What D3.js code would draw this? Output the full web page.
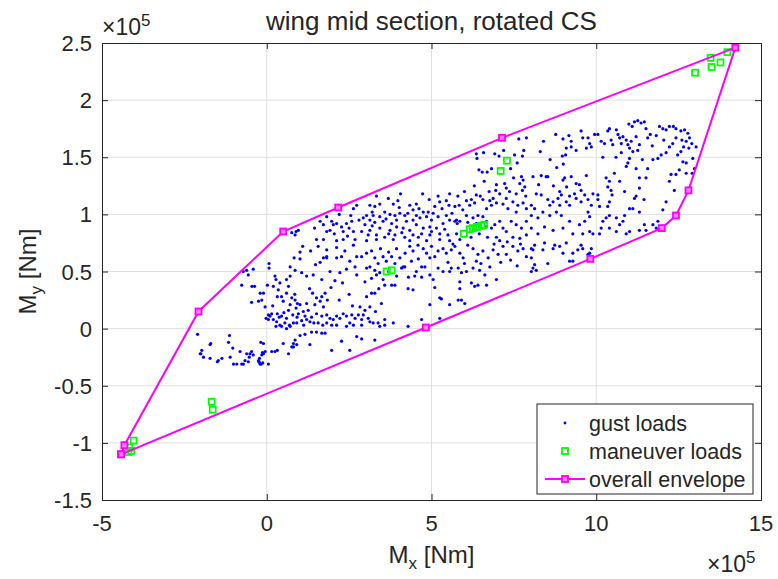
<!DOCTYPE html>
<html>
<head>
<meta charset="utf-8">
<script src="https://cdn.jsdelivr.net/npm/d3@7"></script>
<style>
  body { margin: 0; background: #fff; }
  text { font-family: "Liberation Sans", Arial, Helvetica, sans-serif; fill: #262626; }
</style>
</head>
<body>
<svg id="chart" width="778" height="579" font-family="Liberation Sans, Arial, sans-serif"></svg>
<script>
// all moments in units of 1e5 Nm (axes show the x10^5 factor)
const xTicks = [-5, 0, 5, 10, 15];
const yTicks = [-1.5, -1, -0.5, 0, 0.5, 1, 1.5, 2, 2.5];

const envelope = [
  [-4.42, -1.10], [-4.32, -1.02], [-2.07, 0.15], [0.50, 0.85], [2.17, 1.06], [7.14, 1.67],
  [14.22, 2.46], [12.80, 1.21], [12.42, 0.99], [11.99, 0.88], [9.82, 0.61], [4.83, 0.01],
  [-4.42, -1.10]
];

const maneuverLoads = [
  [-4.04, -0.98], [-4.11, -1.07], [-4.17, -1.04], [-4.20, -1.08],
  [-1.67, -0.64], [-1.64, -0.71],
  [3.64, 0.50], [3.79, 0.51],
  [5.98, 0.83], [6.16, 0.87], [6.26, 0.88], [6.38, 0.89], [6.52, 0.90], [6.60, 0.91],
  [7.10, 1.38], [7.29, 1.47],
  [13.00, 2.24], [13.47, 2.37], [13.50, 2.29], [13.77, 2.33], [13.98, 2.42]
];

const gustLoads = [
  // lower left lobe
  [1.09,0.72],[1.33,0.68],[1.56,0.72],[1.82,0.69],[2.12,0.71],[2.37,0.68],[2.63,0.73],[2.73,0.63],
  [2.52,0.59],[2.42,0.52],[2.73,0.47],[2.68,0.54],[1.01,0.61],[0.83,0.62],[0.71,0.54],[0.86,0.51],
  [1.06,0.49],[1.21,0.46],[1.41,0.47],[1.67,0.43],[1.92,0.50],[2.12,0.62],[2.27,0.63],[2.22,0.49],
  [2.07,0.42],[1.82,0.62],[1.72,0.62],[0.07,0.57],[0.07,0.53],[0.25,0.46],[0.28,0.43],[0.60,0.43],
  [0.66,0.37],[0.71,0.46],[0.02,0.38],[0.20,0.37],[0.35,0.34],[0.45,0.28],[0.32,0.28],[0.50,0.24],
  [0.60,0.31],[0.76,0.27],[0.86,0.25],[0.93,0.22],[1.01,0.21],[0.89,0.18],[0.71,0.21],[0.66,0.16],
  [0.79,0.12],[0.96,0.13],[1.11,0.15],[1.21,0.22],[1.26,0.16],[1.39,0.31],[1.51,0.27],[1.67,0.28],
  [1.77,0.31],[1.84,0.25],[1.62,0.24],[1.46,0.21],[1.72,0.19],[1.51,0.13],[1.67,0.11],[1.82,0.12],
  [1.92,0.09],[2.02,0.08],[2.12,0.11],[2.22,0.09],[2.32,0.13],[2.42,0.11],[2.58,0.12],[2.68,0.09],
  [2.78,0.12],[2.52,0.05],[2.63,0.03],[2.42,0.02],[2.12,0.03],[1.97,0.03],[1.82,0.05],[1.70,0.03],
  [1.56,0.05],[1.43,0.05],[1.31,0.06],[1.21,0.08],[1.16,0.11],[1.06,0.07],[0.91,0.05],[0.81,0.05],
  [0.69,0.03],[0.55,0.05],[0.40,0.03],[0.30,0.06],[0.20,0.08],[0.10,0.11],[0.05,0.12],[0.15,0.13],
  [0.32,0.13],[0.45,0.11],[0.60,0.09],[0.71,0.02],[0.60,0.00],[0.45,0.02],[-0.71,0.50],[-0.61,0.51],
  [-0.41,0.52],[-0.56,0.47],[-0.76,0.38],[-0.45,0.37],[-0.37,0.37],[-0.20,0.31],[-0.10,0.31],[-0.15,0.25],
  [-0.05,0.19],[-0.46,0.23],[-0.25,0.24],[-0.02,0.09],[0.05,0.08],[1.01,0.67],[1.82,0.63],[1.62,0.58],
  [0.38,0.10],[0.52,0.14],[0.28,0.02],[0.92,0.10],[1.36,0.10],[1.12,0.03],[0.85,0.30],[1.30,0.35],
  [0.18,0.20],[0.40,0.40],[1.48,0.56],[2.30,0.40],[2.50,0.30],[2.60,0.20],[2.20,0.25],[1.95,0.36],
  // tail below zero
  [-2.10,-0.05],[-1.70,-0.13],[-1.97,-0.19],[-2.00,-0.22],[-1.92,-0.25],[-1.72,-0.26],[-1.47,-0.28],[-1.50,-0.29],
  [-1.36,-0.26],[-1.13,-0.06],[-1.16,-0.12],[-1.03,-0.17],[-0.81,-0.20],[-0.71,-0.31],[-1.01,-0.31],[-0.91,-0.31],
  [-0.56,-0.29],[-0.51,-0.22],[-0.46,-0.20],[-0.41,-0.23],[-0.18,-0.12],[-0.15,-0.23],[-0.25,-0.28],[-0.20,-0.31],
  [-0.10,-0.22],[-0.05,-0.20],[0.15,-0.20],[0.25,-0.20],[0.32,-0.19],[0.50,-0.13],[0.66,-0.22],[0.76,-0.16],
  [0.81,-0.13],[0.91,-0.14],[0.86,-0.10],[1.01,-0.06],[1.16,-0.05],[1.31,-0.14],[1.36,-0.03],[1.51,-0.03],
  [1.67,-0.04],[1.77,-0.04],[1.97,-0.19],[2.27,-0.11],[2.52,-0.19],[2.73,-0.07],[-0.61,-0.22],[-0.53,-0.25],
  [-0.66,-0.28],[-0.22,-0.26],[-0.24,-0.29],[-0.21,-0.30],[-0.17,-0.31],[-0.12,-0.30],[-0.13,-0.21],
  [-1.72,-0.14],[-2.02,-0.22],[-1.11,-0.25],[-0.76,-0.31],[0.05,-0.31],[-0.10,-0.13],[0.81,-0.16],
  // upper left edge
  [0.76,0.84],[0.89,0.85],[0.96,0.86],[0.86,0.82],[1.62,0.94],[1.72,0.91],[1.82,0.98],[1.97,0.94],
  [2.02,0.91],[2.12,0.92],[2.27,0.89],[2.42,0.92],[2.50,0.88],[2.58,0.94],[2.63,1.05],[2.73,1.08],
  [1.82,0.85],[1.92,0.86],[2.32,0.85],[2.63,0.85],[1.51,0.78],[1.72,0.78],[2.12,0.77],[2.32,0.78],[2.68,0.78],
  [1.45,0.88],[2.05,0.83],[2.45,0.81],[2.80,0.95],[2.55,0.99],[2.20,1.00],
  // central band
  [7.65,1.66],[7.88,1.67],[7.19,1.56],[7.80,1.56],[6.36,1.53],[6.38,1.49],[6.58,1.54],[6.92,1.53],
  [7.05,1.51],[7.52,1.52],[7.76,1.51],[6.44,1.39],[6.54,1.37],[6.69,1.37],[6.82,1.40],[7.49,1.32],
  [7.73,1.33],[7.78,1.30],[7.68,1.27],[7.83,1.24],[6.97,1.26],[6.95,1.21],[7.07,1.18],[7.22,1.27],
  [7.27,1.23],[7.37,1.20],[7.57,1.18],[7.76,1.21],[7.86,1.16],[7.27,1.14],[7.47,1.11],[7.62,1.08],
  [7.78,1.10],[7.17,1.09],[7.32,1.05],[7.57,1.02],[7.88,1.05],[6.97,1.10],[6.87,1.14],[6.77,1.12],
  [6.82,1.08],[6.67,1.05],[6.36,1.17],[6.48,1.16],[6.56,1.13],[6.31,1.10],[6.41,0.99],[6.56,0.98],
  [6.67,0.94],[6.65,0.89],[6.82,0.88],[6.92,0.91],[7.07,0.94],[7.17,0.88],[7.27,0.85],[7.42,0.94],
  [7.57,0.91],[7.73,0.88],[7.88,0.94],[7.47,0.80],[7.68,0.79],[7.88,0.82],[6.97,0.80],[7.07,0.77],
  [3.33,1.16],[3.69,1.14],[4.06,1.18],[4.73,1.18],[3.13,1.08],[3.28,1.07],[3.43,1.09],[3.84,1.09],
  [4.02,1.06],[4.34,1.08],[4.54,1.09],[4.93,1.13],[5.20,1.16],[5.25,1.11],[5.45,1.12],[5.53,1.08],
  [5.71,1.07],[5.84,1.08],[6.06,1.12],[6.16,1.08],[6.21,1.13],[5.10,1.07],[4.90,1.02],[4.75,1.02],
  [4.54,0.99],[4.44,1.04],[4.19,0.99],[4.04,1.01],[3.89,0.99],[3.74,1.00],[3.58,1.02],[3.43,0.98],
  [3.23,0.99],[3.03,0.99],[2.93,0.97],[3.13,0.95],[3.28,0.93],[3.53,0.94],[3.79,0.92],[3.94,0.95],
  [4.24,0.94],[4.44,0.95],[4.65,0.97],[4.85,0.98],[5.00,0.95],[5.20,0.98],[5.45,0.99],[5.55,0.95],
  [5.76,0.95],[5.86,0.94],[6.06,0.99],[6.26,0.97],[6.36,0.92],[5.35,0.92],[5.15,0.88],[4.95,0.89],
  [4.75,0.88],[4.54,0.91],[4.34,0.86],[4.14,0.88],[3.94,0.89],[3.74,0.86],[3.43,0.88],[3.13,0.86],
  [2.98,0.91],[2.88,0.85],[3.08,0.82],[3.33,0.82],[3.58,0.80],[3.89,0.82],[4.19,0.80],[4.44,0.82],
  [4.70,0.83],[4.95,0.82],[5.25,0.83],[5.50,0.82],[5.76,0.83],[5.86,0.78],[5.55,0.77],[5.25,0.78],
  [4.85,0.77],[4.34,0.77],[3.84,0.78],[3.33,0.78],[3.03,0.77],[5.71,0.94],[5.78,0.92],
  [3.20,1.02],[3.62,0.96],[3.98,1.12],[4.28,1.01],[4.62,1.05],[5.05,1.01],[5.32,1.05],[5.62,1.01],
  [5.95,1.04],[6.10,0.93],[5.40,0.87],[5.00,0.85],[4.60,0.80],[4.10,0.84],[3.70,0.83],[3.20,0.90],
  [6.00,1.20],[5.80,1.16],[5.55,1.18],[6.30,1.25],[6.60,1.29],[6.75,1.20],[7.40,1.40],[7.60,1.45],
  [6.20,0.80],[6.45,0.83],[6.70,0.80],[6.90,0.74],[7.30,0.76],[7.70,0.74],[6.10,0.73],[5.65,0.74],
  [2.88,0.63],[3.03,0.66],[3.18,0.68],[3.28,0.62],[3.38,0.57],[3.53,0.63],[3.63,0.59],[3.79,0.63],
  [3.89,0.57],[4.04,0.62],[4.14,0.54],[3.94,0.70],[4.34,0.72],[4.44,0.68],[4.59,0.73],[4.75,0.70],
  [4.85,0.66],[4.95,0.62],[5.10,0.63],[5.20,0.68],[5.35,0.70],[5.45,0.66],[5.60,0.69],[5.71,0.72],
  [5.86,0.66],[5.96,0.62],[6.26,0.70],[6.41,0.65],[6.56,0.68],[6.72,0.62],[6.87,0.69],[7.02,0.65],
  [7.17,0.72],[7.27,0.65],[7.47,0.72],[7.62,0.68],[7.78,0.70],[7.88,0.63],[3.03,0.53],[3.13,0.54],
  [3.28,0.51],[3.43,0.49],[2.98,0.41],[3.18,0.44],[3.33,0.47],[3.53,0.43],[3.58,0.38],[3.79,0.38],
  [3.89,0.38],[3.94,0.46],[4.09,0.53],[4.19,0.54],[4.39,0.59],[4.54,0.50],[4.70,0.54],[4.80,0.54],
  [4.95,0.47],[5.05,0.43],[5.20,0.53],[5.35,0.50],[5.55,0.50],[5.60,0.53],[5.81,0.53],[5.86,0.41],
  [5.91,0.49],[6.06,0.50],[6.26,0.53],[6.36,0.59],[6.46,0.51],[6.62,0.47],[6.67,0.38],[6.77,0.54],
  [6.97,0.43],[6.21,0.40],[6.31,0.37],[6.41,0.38],[5.86,0.35],[4.49,0.46],[4.70,0.45],[4.29,0.35],
  [4.44,0.34],[3.03,0.28],[3.18,0.31],[3.28,0.31],[3.48,0.22],[3.13,0.19],[2.98,0.16],[2.93,0.12],
  [3.08,0.09],[3.23,0.05],[3.38,0.05],[3.58,0.08],[3.58,0.03],[3.84,0.05],[2.83,0.19],[2.88,0.08],
  [2.88,0.03],[3.13,0.06],[3.43,0.02],[3.28,-0.10],[2.88,-0.09],[4.95,0.21],[5.25,0.27],[5.30,0.26],
  [5.55,0.21],[5.81,0.25],[5.91,0.25],[6.01,0.22],[4.70,0.08],[5.25,0.09],[4.29,0.02],
  [3.45,0.70],[3.70,0.67],[4.20,0.66],[4.60,0.61],[5.00,0.72],[5.50,0.58],[6.00,0.57],[6.50,0.57],
  [7.10,0.58],[7.40,0.60],[7.60,0.55],[3.70,0.50],[4.30,0.45],[5.10,0.36],[3.40,0.35],[3.30,0.15],
  // right loop
  [8.40,1.64],[8.77,1.70],[8.99,1.66],[9.17,1.69],[9.24,1.64],[9.09,1.58],[8.97,1.51],[9.07,1.52],
  [9.24,1.59],[9.39,1.56],[9.54,1.73],[9.59,1.67],[9.75,1.67],[9.80,1.62],[9.70,1.58],[9.85,1.59],
  [9.95,1.70],[10.05,1.70],[10.15,1.64],[10.25,1.62],[10.35,1.73],[10.40,1.75],[10.45,1.65],[10.50,1.61],
  [10.61,1.74],[10.66,1.70],[10.71,1.67],[10.76,1.62],[10.81,1.68],[10.91,1.65],[10.96,1.61],[11.01,1.58],
  [11.06,1.64],[11.11,1.55],[11.21,1.68],[11.31,1.61],[11.26,1.56],[11.01,1.49],[10.96,1.45],[10.91,1.42],
  [10.76,1.54],[10.99,1.79],[11.09,1.77],[11.16,1.81],[11.26,1.82],[11.36,1.80],[11.46,1.81],[11.51,1.75],
  [11.56,1.67],[11.64,1.70],[11.82,1.69],[11.92,1.77],[12.02,1.75],[12.12,1.74],[12.22,1.77],[12.34,1.77],
  [12.42,1.75],[12.57,1.73],[12.68,1.74],[12.78,1.71],[12.83,1.67],[12.73,1.64],[12.65,1.59],[12.57,1.55],
  [12.42,1.67],[12.32,1.62],[12.22,1.59],[12.12,1.54],[11.97,1.52],[11.87,1.49],[11.72,1.48],[11.56,1.40],
  [11.51,1.32],[11.31,1.32],[11.21,1.40],[11.31,1.23],[11.21,1.16],[11.11,1.05],[11.31,1.02],[11.16,1.14],
  [12.47,1.52],[12.63,1.46],[12.73,1.45],[12.81,1.58],[13.03,1.59],[12.93,1.49],[12.98,1.40],[12.91,1.36],
  [12.73,1.36],[12.52,1.39],[12.42,1.35],[12.27,1.35],[12.37,1.21],[12.22,1.29],[12.12,1.11],[12.02,1.04],
  [8.08,1.33],[8.33,1.34],[8.48,1.33],[8.53,1.33],[8.18,1.18],[8.33,1.17],[8.53,1.13],[8.69,1.11],
  [8.84,1.14],[8.94,1.17],[8.89,1.20],[8.99,1.30],[9.04,1.32],[9.24,1.33],[9.39,1.27],[9.49,1.26],
  [9.54,1.21],[9.34,1.18],[9.19,1.16],[9.39,1.14],[9.54,1.11],[9.65,1.17],[9.75,1.13],[9.90,1.18],
  [10.05,1.17],[9.85,1.08],[9.75,1.02],[9.80,0.98],[9.65,0.94],[9.49,0.91],[9.19,0.94],[8.94,0.99],
  [8.79,1.02],[8.59,0.99],[8.38,1.02],[8.13,1.05],[8.03,0.99],[8.23,0.97],[8.43,0.89],[8.69,0.86],
  [8.99,0.88],[9.29,0.83],[9.59,0.83],[9.80,0.85],[8.59,1.08],[8.89,1.08],[9.09,1.11],[9.19,1.08],
  [8.03,1.08],[8.03,0.88],[8.23,0.83],[10.30,1.32],[10.40,1.29],[10.35,1.24],[10.45,1.21],[10.48,1.17],
  [10.40,1.11],[10.55,1.36],[10.71,1.29],[10.86,1.20],[10.86,0.99],[11.01,1.05],[10.81,0.94],[10.71,0.91],
  [10.61,0.97],[10.40,0.99],[10.30,0.97],[10.20,0.94],[10.15,0.88],[10.40,0.88],[10.61,0.85],[10.91,0.83],
  [11.01,0.85],[10.10,1.07],[10.05,1.13],[10.35,1.07],[9.90,0.83],[10.10,0.83],[11.31,0.86],[11.51,0.86],
  [11.72,0.91],[11.87,0.94],[11.82,0.88],[11.46,0.91],
  [8.30,1.55],[8.60,1.48],[8.80,1.41],[9.00,1.44],[8.25,1.26],[8.70,1.25],[9.10,1.24],[9.70,1.34],
  [10.20,1.50],[10.60,1.50],[11.40,1.48],[11.70,1.60],[12.05,1.65],[12.60,1.65],[12.90,1.62],[11.45,1.13],
  [8.03,0.70],[8.08,0.69],[8.13,0.73],[8.38,0.69],[8.43,0.75],[8.69,0.70],[8.74,0.73],[8.89,0.72],
  [8.99,0.66],[9.09,0.75],[9.19,0.59],[9.29,0.59],[9.29,0.66],[9.44,0.69],[9.54,0.73],[9.59,0.70],
  [9.80,0.66],[9.85,0.70],[9.75,0.65],[8.03,0.62],[8.13,0.56],[8.08,0.53],[8.03,0.50],[8.18,0.51],
  [8.53,0.57],[9.80,0.62]
];

const margin = {top: 43, right: 17, bottom: 79, left: 102};
const width = 778, height = 579;
const innerWidth = width - margin.left - margin.right;
const innerHeight = height - margin.top - margin.bottom;

const axisColor = '#262626';
const gridColor = '#dfdfdf';

const svg = d3.select('#chart');
const g = svg.append('g').attr('transform', `translate(${margin.left},${margin.top})`);

const x = d3.scaleLinear().domain([-5, 15]).range([0, innerWidth]);
const y = d3.scaleLinear().domain([-1.5, 2.5]).range([innerHeight, 0]);

// grid
g.append('g').selectAll('line').data(xTicks.slice(1, -1)).join('line')
    .attr('x1', d => x(d)).attr('x2', d => x(d))
    .attr('y1', 0).attr('y2', innerHeight)
    .attr('stroke', gridColor).attr('stroke-width', 1);
g.append('g').selectAll('line').data(yTicks.slice(1, -1)).join('line')
    .attr('y1', d => y(d)).attr('y2', d => y(d))
    .attr('x1', 0).attr('x2', innerWidth)
    .attr('stroke', gridColor).attr('stroke-width', 1);

// gust loads
g.append('g').selectAll('circle').data(gustLoads).join('circle')
    .attr('cx', d => x(d[0])).attr('cy', d => y(d[1]))
    .attr('r', 1.6).attr('fill', '#0000ff');

// maneuver loads
const sq = 6;
g.append('g').selectAll('rect').data(maneuverLoads).join('rect')
    .attr('x', d => x(d[0]) - sq / 2).attr('y', d => y(d[1]) - sq / 2)
    .attr('width', sq).attr('height', sq)
    .attr('fill', 'none').attr('stroke', '#00ff00').attr('stroke-width', 1.8);

// envelope
g.append('path').datum(envelope)
    .attr('d', d3.line().x(d => x(d[0])).y(d => y(d[1])))
    .attr('fill', 'none').attr('stroke', '#ff00ff').attr('stroke-width', 2);
g.append('g').selectAll('rect').data(envelope).join('rect')
    .attr('x', d => x(d[0]) - sq / 2).attr('y', d => y(d[1]) - sq / 2)
    .attr('width', sq).attr('height', sq)
    .attr('fill', '#ff7fff').attr('stroke', '#ff00ff').attr('stroke-width', 1.8);

// axes, MATLAB style: ticks inward, box on; labels drawn separately
const axes = [
    g.append('g').attr('transform', `translate(0,${innerHeight})`)
        .call(d3.axisBottom(x).tickValues(xTicks).tickSize(-6).tickFormat('')),
    g.append('g').call(d3.axisLeft(y).tickValues(yTicks).tickSize(-6).tickFormat('')),
    g.append('g').call(d3.axisTop(x).tickValues(xTicks).tickSize(-6).tickFormat('')),
    g.append('g').attr('transform', `translate(${innerWidth},0)`)
        .call(d3.axisRight(y).tickValues(yTicks).tickSize(-6).tickFormat(''))
];
axes.forEach(a => {
    a.select('.domain').attr('stroke', axisColor).attr('stroke-width', 1);
    a.selectAll('.tick line').attr('stroke', axisColor);
    a.selectAll('.tick text').remove();
});

// tick labels, placed in page coordinates
svg.append('g').selectAll('text').data(xTicks).join('text')
    .attr('x', d => margin.left + x(d)).attr('y', margin.top + innerHeight + 31)
    .attr('text-anchor', 'middle').attr('font-size', 22)
    .text(d => String(d));
svg.append('g').selectAll('text').data(yTicks).join('text')
    .attr('x', margin.left - 10).attr('y', d => margin.top + y(d) + 8)
    .attr('text-anchor', 'end').attr('font-size', 22)
    .text(d => String(d));

// text pieces (base + raised / lowered part) laid out as separate text nodes
function pieces(parent, parts, anchorMiddle) {
    const nodes = parts.map(p => parent.append('text')
        .attr('y', p.dy).attr('font-size', p.size).text(p.text));
    const widths = nodes.map(n => n.node().getComputedTextLength());
    const total = d3.sum(widths);
    let cx = anchorMiddle ? -total / 2 : 0;
    nodes.forEach((n, i) => { n.attr('x', cx); cx += widths[i]; });
}

// exponent labels
[[102, 35], [707, 572]].forEach(p => {
    const e = svg.append('g').attr('transform', `translate(${p[0]},${p[1]})`);
    pieces(e, [{text: '\u00d710', size: 23, dy: 0}, {text: '5', size: 17, dy: -9}], false);
});

// axis labels
const xl = svg.append('g').attr('transform', `translate(${margin.left + innerWidth / 2},563)`);
pieces(xl, [{text: 'M', size: 24, dy: 0}, {text: 'x', size: 17, dy: 6},
            {text: '\u00a0[Nm]', size: 24, dy: 0}], true);

const yl = svg.append('g')
    .attr('transform', `translate(36,${margin.top + innerHeight / 2}) rotate(-90)`);
pieces(yl, [{text: 'M', size: 24, dy: 0}, {text: 'y', size: 17, dy: 6},
            {text: '\u00a0[Nm]', size: 24, dy: 0}], true);

// title
svg.append('text').attr('x', margin.left + innerWidth / 2).attr('y', 30)
    .attr('text-anchor', 'middle').attr('font-size', 26)
    .text('wing mid section, rotated CS');

// legend
const lg = svg.append('g').attr('transform', 'translate(537,404)');
lg.append('rect').attr('width', 216).attr('height', 90)
    .attr('fill', '#fff').attr('stroke', axisColor).attr('stroke-width', 1);
const legendItems = ['gust loads', 'maneuver loads', 'overall envelope'];
const rowY = [19, 47, 75];
lg.selectAll('text.item').data(legendItems).join('text').attr('class', 'item')
    .attr('x', 52).attr('y', (d, i) => rowY[i] + 8)
    .attr('font-size', 21.5).text(d => d);
lg.append('circle').attr('cx', 28).attr('cy', rowY[0]).attr('r', 1.4).attr('fill', '#0000ff');
lg.append('rect').attr('x', 28 - sq / 2).attr('y', rowY[1] - sq / 2).attr('width', sq).attr('height', sq)
    .attr('fill', 'none').attr('stroke', '#00ff00').attr('stroke-width', 1.8);
lg.append('line').attr('x1', 8).attr('x2', 48).attr('y1', rowY[2]).attr('y2', rowY[2])
    .attr('stroke', '#ff00ff').attr('stroke-width', 2);
lg.append('rect').attr('x', 28 - sq / 2).attr('y', rowY[2] - sq / 2).attr('width', sq).attr('height', sq)
    .attr('fill', '#ff7fff').attr('stroke', '#ff00ff').attr('stroke-width', 1.8);
</script>
</body>
</html>
